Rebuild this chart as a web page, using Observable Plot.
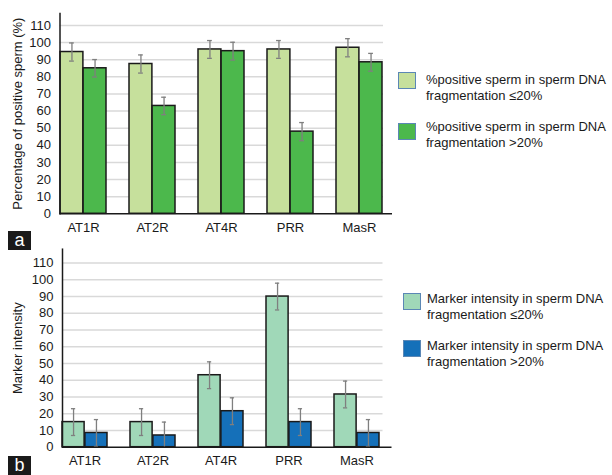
<!DOCTYPE html>
<html>
<head>
<meta charset="utf-8">
<script src="https://cdn.jsdelivr.net/npm/d3@7"></script>
<script src="https://cdn.jsdelivr.net/npm/@observablehq/plot@0.6"></script>
<style>
  html, body { margin: 0; padding: 0; background: #fff; }
  body { width: 612px; height: 475px; position: relative; overflow: hidden; font-family: "Liberation Sans", Arial, sans-serif; }
  .panel { position: absolute; left: 0; }
  .legend { position: absolute; font-size: 13px; line-height: 16px; color: #1a1a1a; }
  .sw { position: absolute; width: 16px; height: 15px; border: 1.5px solid #5b87b5; }
  .lt { position: absolute; white-space: nowrap; }
  .tag { position: absolute; background: #1a1a1a; color: #fff; font-size: 18px; line-height: 19px; text-align: center; width: 23px; height: 19px; }
</style>
</head>
<body>
<div id="pa" class="panel" style="top:0px"></div>
<div id="pb" class="panel" style="top:240px"></div>

<div class="sw" style="left:398px;top:72px;background:#c6e09c"></div>
<div class="lt legend" style="left:426px;top:72px">%positive sperm in sperm DNA<br>fragmentation ≤20%</div>
<div class="sw" style="left:398px;top:123px;background:#4cb84c"></div>
<div class="lt legend" style="left:426px;top:119px">%positive sperm in sperm DNA<br>fragmentation &gt;20%</div>

<div class="sw" style="left:403px;top:293px;background:#a0d8b8"></div>
<div class="lt legend" style="left:427px;top:291px">Marker intensity in sperm DNA<br>fragmentation ≤20%</div>
<div class="sw" style="left:403px;top:340px;background:#1570b9"></div>
<div class="lt legend" style="left:427px;top:338px">Marker intensity in sperm DNA<br>fragmentation &gt;20%</div>

<div class="tag" style="left:8px;top:231px">a</div>
<div class="tag" style="left:8px;top:456px">b</div>

<script>
// ---- Data ----
const categories = ["AT1R", "AT2R", "AT4R", "PRR", "MasR"];
const yTicks = [0, 10, 20, 30, 40, 50, 60, 70, 80, 90, 100, 110];

// Panel a: % positive sperm
const aLow = [94.5, 87.5, 96, 96, 97];
const aHigh = [85, 63, 95, 48, 88.5];
const aLowErr = [5.3, 5.3, 5.2, 5.2, 5.3];
const aHighErr = [5.1, 5.1, 5.2, 5.3, 5.2];

// Panel b: marker intensity
const bLow = [15, 15, 43, 90, 31.5];
const bHigh = [8.5, 7, 21.5, 15, 8.5];
const bLowErr = [8, 8, 8, 8, 8];
const bHighErr = [8, 8, 8, 8, 8];

function panel({low, high, lowErr, highErr, colorLow, colorHigh, title, marginLeft, xEnd, yTop, height, marginTop, marginBottom, titleX}) {
  const rows = categories.map((c, i) => ({c, low: low[i], high: high[i], le: lowErr[i], he: highErr[i]}));
  const width = 612;
  const marginRight = width - xEnd;
  const step = (xEnd - marginLeft) / (categories.length - 1 / 3);
  const bw = step * (2 / 3);
  const half = bw / 2;
  const q = bw / 4;
  const cap = 2.5;
  const errStyle = {stroke: "#7f7f7f", strokeWidth: 1.3};
  return Plot.plot({
    width, height, marginLeft, marginRight, marginTop, marginBottom,
    style: {fontFamily: "Liberation Sans, Arial, sans-serif", fontSize: "13px", color: "#1a1a1a", background: "transparent", overflow: "visible"},
    x: {domain: categories, paddingInner: 1 / 3, paddingOuter: 0, align: 0, label: null},
    y: {domain: [0, yTop], label: null},
    marks: [
      Plot.ruleY(yTicks.filter(d => d > 0), {stroke: "#d9d9d9", strokeWidth: 1.5}),
      Plot.barY(rows, {x: "c", y: "low", fill: colorLow, stroke: "#1a1a1a", strokeWidth: 1.5, insetRight: half}),
      Plot.barY(rows, {x: "c", y: "high", fill: colorHigh, stroke: "#1a1a1a", strokeWidth: 1.5, insetLeft: half}),
      Plot.ruleX(rows, {x: "c", y1: d => d.low - d.le, y2: d => d.low + d.le, dx: -q, ...errStyle}),
      Plot.ruleX(rows, {x: "c", y1: d => Math.max(0, d.high - d.he), y2: d => d.high + d.he, dx: q, ...errStyle}),
      Plot.tickY(rows, {x: "c", y: d => d.low + d.le, insetLeft: q - cap, insetRight: bw - q - cap, ...errStyle}),
      Plot.tickY(rows, {x: "c", y: d => d.low - d.le, insetLeft: q - cap, insetRight: bw - q - cap, ...errStyle}),
      Plot.tickY(rows, {x: "c", y: d => d.high + d.he, insetLeft: bw - q - cap, insetRight: q - cap, ...errStyle}),
      Plot.tickY(rows.filter(d => d.high - d.he > 0), {x: "c", y: d => d.high - d.he, insetLeft: bw - q - cap, insetRight: q - cap, ...errStyle}),
      Plot.ruleY([0], {stroke: "#1a1a1a", strokeWidth: 1.5, insetRight: -9}),
      Plot.frame({anchor: "left", stroke: "#1a1a1a", strokeWidth: 1.5}),
      Plot.axisY({ticks: yTicks, tickSize: 0, tickPadding: 9, fontSize: 13, label: null}),
      Plot.axisX({tickSize: 0, tickPadding: 9, fontSize: 13, label: null}),
      Plot.text([title], {frameAnchor: "left", dx: titleX - marginLeft, rotate: -90, textAnchor: "middle", fontSize: 13, fill: "#1a1a1a"})
    ]
  });
}

document.getElementById("pa").append(panel({
  low: aLow, high: aHigh, lowErr: aLowErr, highErr: aHighErr,
  colorLow: "#c6e09c", colorHigh: "#4cb84c",
  title: "Percentage of positive sperm (%)",
  marginLeft: 59.5, xEnd: 383, yTop: 117, height: 240, marginTop: 13, marginBottom: 26.7, titleX: 17
}));

document.getElementById("pb").append(panel({
  low: bLow, high: bHigh, lowErr: bLowErr, highErr: bHighErr,
  colorLow: "#a0d8b8", colorHigh: "#1570b9",
  title: "Marker intensity",
  marginLeft: 62, xEnd: 382.5, yTop: 118.3, height: 235, marginTop: 8.7, marginBottom: 28.3, titleX: 17
}));
</script>
</body>
</html>
